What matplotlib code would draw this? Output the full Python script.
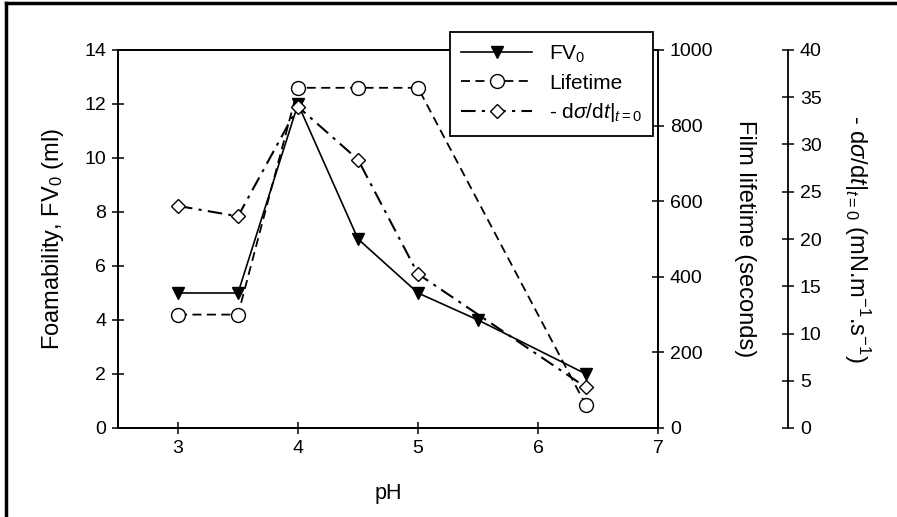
import numpy as np
import matplotlib
matplotlib.use("Agg")
import matplotlib.pyplot as plt
from matplotlib.lines import Line2D

plt.rcParams["font.family"] = ["Liberation Sans", "DejaVu Sans"]
plt.rcParams["mathtext.fontset"] = "custom"
plt.rcParams["mathtext.rm"] = "Liberation Sans"
plt.rcParams["mathtext.it"] = "Liberation Sans:italic"
plt.rcParams["mathtext.sf"] = "Liberation Sans"

# ----------------- Data -----------------
ph_fv = [3, 3.5, 4, 4.5, 5, 5.5, 6.4]
fv0 = [5, 5, 12, 7, 5, 4, 2]

ph_life = [3, 3.5, 4, 4.5, 5, 6.4]
lifetime = [300, 300, 900, 900, 900, 60]

ph_dsig = [3, 3.5, 4, 4.5, 5, 6.4]
dsigma = [23.5, 22.4, 34, 28.4, 16.3, 4.3]

fig = plt.figure(figsize=(8.97, 5.17), dpi=100)
ax = fig.add_axes([118 / 897, 89 / 517, 540 / 897, 378 / 517])
ax2 = ax.twinx()
ax3 = ax.twinx()
ax3.spines["right"].set_position(("axes", (788 - 118) / 540))

# outer frame (only top and left edges visible)
fig.add_artist(Line2D([6 / 897, 6 / 897], [0, 1 - 3 / 517], transform=fig.transFigure, color="black", lw=2.5))
fig.add_artist(Line2D([6 / 897, 1], [1 - 3 / 517, 1 - 3 / 517], transform=fig.transFigure, color="black", lw=2.5))

l1, = ax.plot(ph_fv, fv0, "-", color="black", lw=1.2, marker="v", ms=8, mfc="black", mec="black")
l2, = ax2.plot(ph_life, lifetime, "--", color="black", lw=1.3, marker="o", ms=10, mfc="white", mec="black",
               dashes=(5, 3))
l3, = ax3.plot(ph_dsig, dsigma, "-.", color="black", lw=1.5, marker="D", ms=7, mfc="white", mec="black",
               dashes=(7, 3, 1.5, 3))

ax.set_xlim(2.5, 7)
ax.set_ylim(0, 14)
ax2.set_ylim(0, 1000)
ax3.set_ylim(0, 40)
ax.set_xticks([3, 4, 5, 6, 7])
ax.set_yticks(np.arange(0, 15, 2))
ax2.set_yticks(np.arange(0, 1001, 200))
ax3.set_yticks(np.arange(0, 41, 5))

for a in (ax, ax2, ax3):
    for s in a.spines.values():
        s.set_linewidth(1.3)
    a.tick_params(direction="inout", length=9, width=1.1, labelsize=14, pad=4)
ax3.spines["top"].set_visible(False)
ax3.spines["left"].set_visible(False)
ax3.spines["bottom"].set_visible(False)

# axis labels, placed by their centres
ax.set_xlabel("pH", fontsize=15.5, va="center")
ax.xaxis.set_label_coords(0.5, -0.172)
ax.set_ylabel("Foamability, FV$_0$ (ml)", fontsize=17, va="center", ha="center", rotation_mode="anchor")
ax.yaxis.set_label_coords(-0.1204, 0.5)
ax2.set_ylabel("Film lifetime (seconds)", fontsize=17, rotation=270, va="center", ha="center",
               rotation_mode="anchor")
ax2.yaxis.set_label_coords(1.1611, 0.5)
ax3.set_ylabel("- d$\\sigma$/d$t$|$_{t=0}$ (mN.m$^{-1}$.s$^{-1}$)", fontsize=17, rotation=270,
               va="center", ha="center", rotation_mode="anchor")
ax3.yaxis.set_label_coords(1.3685, 0.5)

leg = ax3.legend([l1, l2, l3], ["FV$_0$", "Lifetime", "- d$\\sigma$/d$t$|$_{t=0}$"],
                 loc="upper left", bbox_to_anchor=((450 - 118) / 540, (428 - 32) / 378),
                 borderaxespad=0, fontsize=15, fancybox=False, edgecolor="black", framealpha=1,
                 handlelength=3.4, borderpad=0.55, labelspacing=0.42, handletextpad=0.8)
leg.get_frame().set_linewidth(1.3)

plt.savefig("out.png", dpi=100)
plt.close()
